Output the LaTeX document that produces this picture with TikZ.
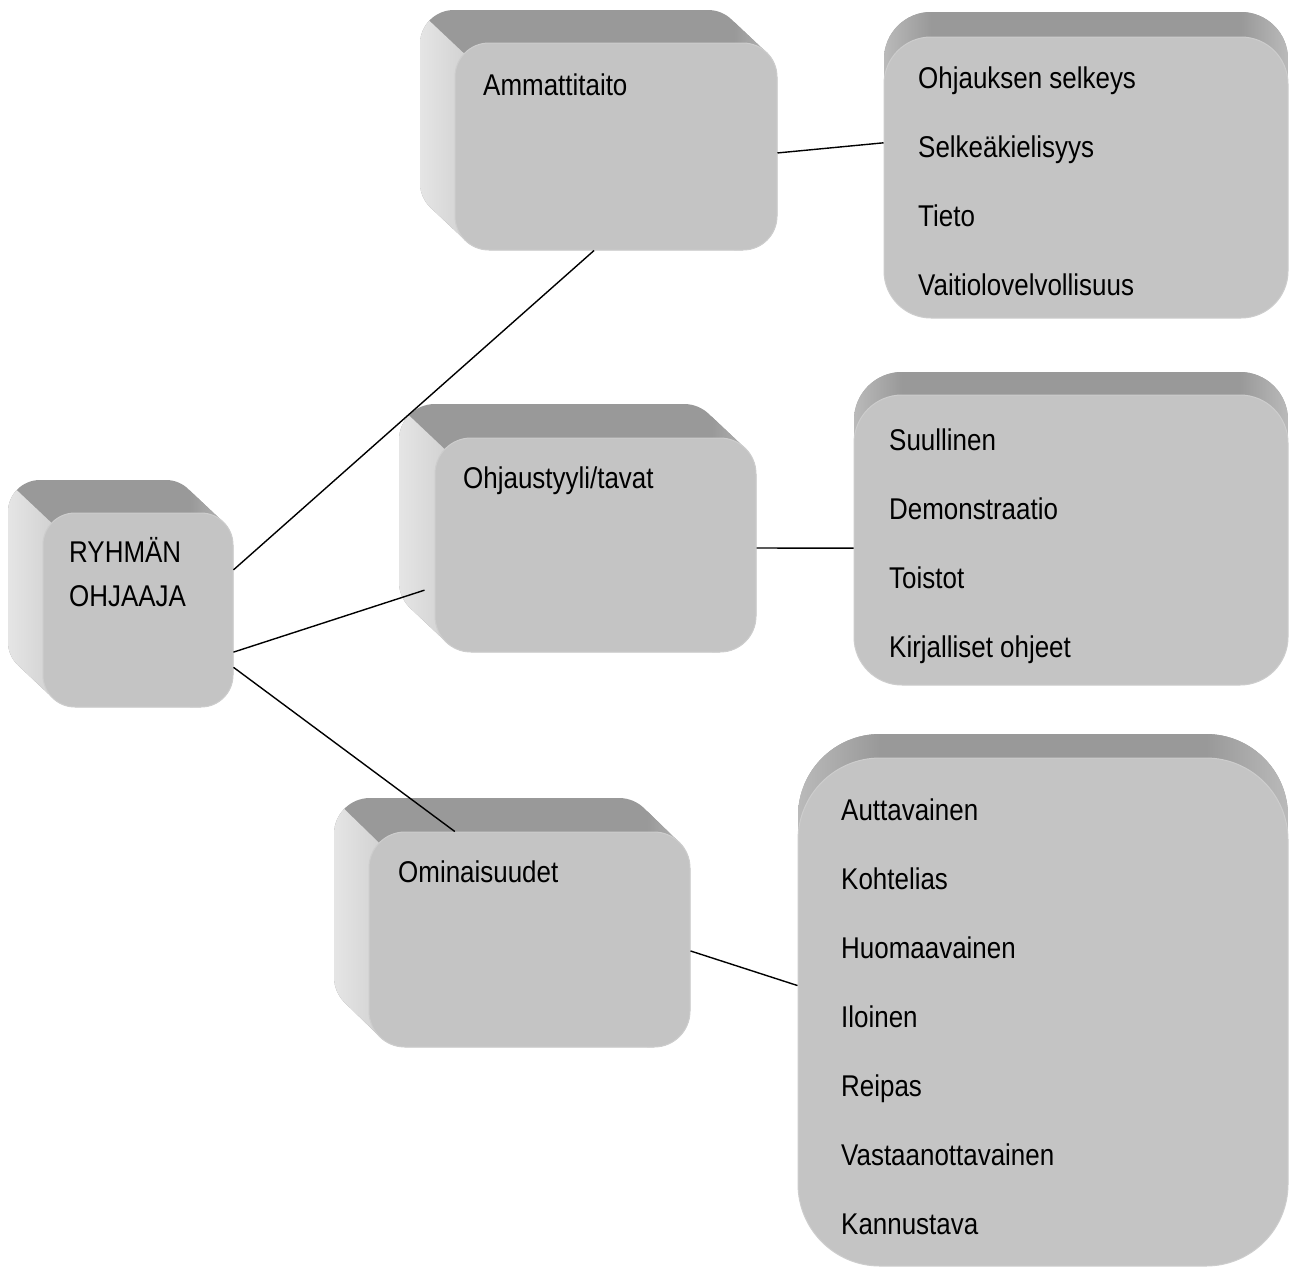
\documentclass[tikz,border=0pt]{standalone}
\usepackage{fontspec}
\setmainfont[FakeStretch=0.865]{Liberation Sans}
\usetikzlibrary{calc}
\definecolor{facecol}{HTML}{C4C4C4}
\definecolor{rimcol}{HTML}{CDCDCD}
\definecolor{topcol}{HTML}{999999}
\definecolor{edgelight}{HTML}{BABABA}
\definecolor{sidelight}{HTML}{E6E6E6}
\definecolor{sidedark}{HTML}{C8C8C8}
\tikzset{
  frontface/.style={rectangle, fill=facecol, draw=rimcol, line width=1pt, inner sep=0pt},
  lbl/.style={anchor=base west, inner sep=0pt, font=\fontsize{30}{36}\selectfont},
  conn/.style={draw=black, line width=1.4pt},
}
% #1 name, #2 L, #3 T, #4 R, #5 B, #6 radius, #7 back shift x, #8 back shift y
\newcommand\sidebox[8]{%
  \begin{scope}
    \clip[rounded corners=#6pt] \foreach \k in {0,...,40}{
      ({#2-\k*#7/40},{#3-\k*#8/40}) rectangle ({#4-\k*#7/40},{#5-\k*#8/40}) };
    \fill[topcol] ({#2-#7-5},{#3-#8-5}) rectangle ({#4+5},{#5+5});
    \shade[left color=topcol, right color=edgelight]
      ({#4-#7-8},{#3-#8-5}) rectangle ({#4+2},{#5+5});
    \begin{scope}
      \clip ({#2+#6+20*#7},{#3+#6+20*#8}) -- ({#2+#6-20*#7},{#3+#6-20*#8})
        -- ({#2+#6-20*#7-100*#8},{#3+#6-20*#8+100*#7})
        -- ({#2+#6+20*#7-100*#8},{#3+#6+20*#8+100*#7}) -- cycle;
      \shade[left color=sidelight, right color=sidedark]
        ({#2-#7-2},{#3-#8-5}) rectangle ({#2+#6},{#5+5});
    \end{scope}
  \end{scope}
  \node[frontface, rounded corners=#6pt, minimum width={(#4-#2)*1pt},
        minimum height={(#5-#3)*1pt}] (#1) at ({(#2+#4)/2},{(#3+#5)/2}) {};
}
% #1 name, #2 L, #3 T, #4 R, #5 B, #6 radius, #7 back shift up
\newcommand\flatbox[7]{%
  \begin{scope}
    \clip[rounded corners=#6pt] (#2,{#3-#7}) rectangle (#4,{#5-#7});
    \fill[topcol] (#2,{#3-#7}) rectangle (#4,{#5-#7});
    \shade[left color=topcol, right color=edgelight]
      ({#4-#6},{#3-#7}) rectangle (#4,{#3+#6});
    \shade[left color=edgelight, right color=topcol]
      (#2,{#3-#7}) rectangle ({#2+#6},{#3+#6});
  \end{scope}
  \node[frontface, rounded corners=#6pt, minimum width={(#4-#2)*1pt},
        minimum height={(#5-#3)*1pt}] (#1) at ({(#2+#4)/2},{(#3+#5)/2}) {};
}
\begin{document}
\begin{tikzpicture}[x=1pt,y=-1pt]
\useasboundingbox (0,0) rectangle (1289,1266);
\fill[white] (0,0) rectangle (1289,1266);

% left column boxes
\sidebox{ryh}{43}{513}{233}{707}{32}{35}{33}
\sidebox{amm}{455}{43}{777}{250}{34}{35}{33}
\sidebox{ohj}{435}{438}{756}{652}{36}{36}{34}
\sidebox{omi}{369}{832}{690}{1047}{36}{35}{34}

% right column boxes
\flatbox{lst1}{884}{37}{1288}{318}{47}{25}
\flatbox{lst2}{854}{395}{1288}{685}{48}{23}
\flatbox{lst3}{798}{758}{1288}{1266}{82}{24}

% texts
\node[lbl] (t-ryh1) at (69,562) {RYHMÄN};
\node[lbl] (t-ryh2) at (69,606) {OHJAAJA};
\node[lbl] (t-amm) at (483,95) {Ammattitaito};
\node[lbl] (t-ohj) at (463,488) {Ohjaustyyli/tavat};
\node[lbl] (t-omi) at (398,882) {Ominaisuudet};

\node[lbl] (a1) at (918,88) {Ohjauksen selkeys};
\node[lbl] (a2) at (918,157) {Selkeäkielisyys};
\node[lbl] (a3) at (918,226) {Tieto};
\node[lbl] (a4) at (918,295) {Vaitiolovelvollisuus};

\node[lbl] (b1) at (889,450) {Suullinen};
\node[lbl] (b2) at (889,519) {Demonstraatio};
\node[lbl] (b3) at (889,588) {Toistot};
\node[lbl] (b4) at (889,657) {Kirjalliset ohjeet};

\node[lbl] (c1) at (841,820) {Auttavainen};
\node[lbl] (c2) at (841,889) {Kohtelias};
\node[lbl] (c3) at (841,958) {Huomaavainen};
\node[lbl] (c4) at (841,1027) {Iloinen};
\node[lbl] (c5) at (841,1096) {Reipas};
\node[lbl] (c6) at (841,1165) {Vastaanottavainen};
\node[lbl] (c7) at (841,1234) {Kannustava};

% connectors
\draw[conn] ($(ryh.north east)!0.294!(ryh.south east)$) -- ($(amm.south west)!0.432!(amm.south east)$);
\draw[conn] ($(ryh.north east)!0.716!(ryh.south east)$) -- ($(ohj.north west)!0.71!(ohj.south west)+(-10,0)$);
\draw[conn] ($(ryh.north east)!0.794!(ryh.south east)$) -- ($(omi.north west)!0.268!(omi.north east)$);
\draw[conn] ($(amm.north east)!0.531!(amm.south east)$) -- ($(lst1.north west)!0.377!(lst1.south west)$);
\draw[conn] ($(ohj.north east)!0.514!(ohj.south east)$) -- ($(lst2.north west)!0.528!(lst2.south west)$);
\draw[conn] ($(omi.north east)!0.553!(omi.south east)$) -- ($(lst3.north west)!0.448!(lst3.south west)$);
\end{tikzpicture}
\end{document}
